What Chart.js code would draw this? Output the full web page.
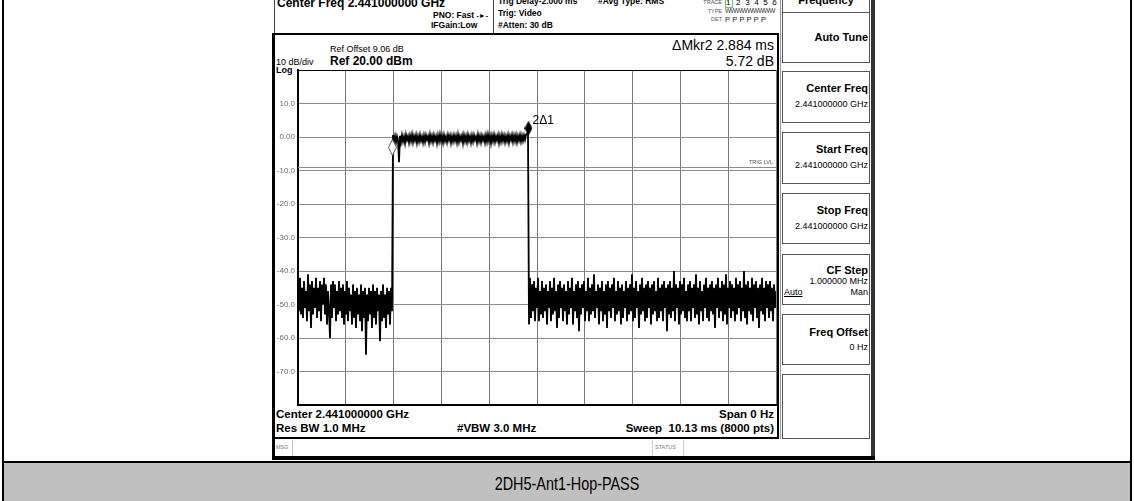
<!DOCTYPE html>
<html><head><meta charset="utf-8">
<script src="https://cdn.jsdelivr.net/npm/chart.js@4"></script>
<style>
html,body{margin:0;padding:0;background:#fff;}
body{width:1134px;height:501px;position:relative;overflow:hidden;font-family:"Liberation Sans",Arial,sans-serif;color:#000;}
.a{position:absolute;white-space:nowrap;line-height:1;}
.b{font-weight:bold;}
.box{position:absolute;box-sizing:border-box;}
.key{position:absolute;box-sizing:border-box;left:782px;width:88px;border:1px solid #555;background:#fff;}
canvas{position:absolute;left:0;top:0;}
</style>
</head><body>
<!-- table frame -->
<div class="box" style="left:2px;top:0;width:2px;height:501px;background:#000"></div>
<div class="box" style="left:1130px;top:0;width:2px;height:501px;background:#000"></div>
<div class="box" style="left:2px;top:461px;width:1130px;height:2px;background:#000"></div>
<div class="box" style="left:4px;top:463px;width:1126px;height:38px;background:#c0c0c0"></div>
<div class="a" id="cap" style="left:367px;width:400px;text-align:center;top:475px;font-size:18px;transform:scaleX(0.8);transform-origin:center">2DH5-Ant1-Hop-PASS</div>

<!-- top bar -->
<div class="box" style="left:274px;top:-6px;width:220px;height:40px;border:1px solid #444"></div>
<div class="a b" style="left:277px;top:-3px;font-size:12px">Center Freq 2.441000000 GHz</div>
<div class="a b" style="left:433px;top:11px;font-size:8.5px">PNO: Fast <span style="font-size:7px">-►-</span></div>
<div class="a b" style="left:431px;top:21px;font-size:8.5px">IFGain:Low</div>
<div class="a b" style="left:498px;top:-3px;font-size:8.5px">Trig Delay-2.000 ms</div>
<div class="a b" style="left:498px;top:9px;font-size:8.5px">Trig: Video</div>
<div class="a b" style="left:498px;top:21px;font-size:8.5px">#Atten: 30 dB</div>
<div class="a b" style="left:598px;top:-3px;font-size:8.5px">#Avg Type: RMS</div>
<div class="a" style="left:700px;width:22px;text-align:right;top:0px;font-size:5.5px;color:#555">TRACE</div>
<div class="a" style="left:725px;top:-1px;font-size:8px;letter-spacing:1.2px"><span style="border:1px solid #6c6">1</span> 2 3 4 5 6</div>
<div class="a" style="left:700px;width:22px;text-align:right;top:9px;font-size:5.5px;color:#555">TYPE</div>
<div class="a" style="left:725px;top:8px;font-size:6.5px;letter-spacing:-0.6px;color:#333">WWWWWWWWW</div>
<div class="a" style="left:700px;width:22px;text-align:right;top:17px;font-size:5.5px;color:#555">DET</div>
<div class="a" style="left:725px;top:16px;font-size:7.5px;letter-spacing:2.2px;color:#222">PPPPPP</div>

<!-- main panel -->
<div class="box" style="left:272px;top:33px;width:507px;height:406px;border:2px solid #000;border-left-width:3px"></div>
<div class="a" style="left:276px;top:58px;font-size:9px">10 dB/div</div>
<div class="a b" style="left:276px;top:66px;font-size:9px">Log</div>
<div class="a" style="left:330px;top:45px;font-size:9px">Ref Offset 9.06 dB</div>
<div class="a b" style="left:330px;top:55px;font-size:12px">Ref 20.00 dBm</div>
<div class="a" style="left:600px;width:174px;text-align:right;top:38px;font-size:14px">ΔMkr2 2.884 ms</div>
<div class="a" style="left:600px;width:174px;text-align:right;top:54px;font-size:14px">5.72 dB</div>
<div class="a b" style="left:276px;top:409px;font-size:11.5px">Center 2.441000000 GHz</div>
<div class="a b" style="left:600px;width:174px;text-align:right;top:409px;font-size:11.5px">Span 0 Hz</div>
<div class="a b" style="left:276px;top:423px;font-size:11.5px">Res BW 1.0 MHz</div>
<div class="a b" style="left:457px;top:423px;font-size:11.5px">#VBW 3.0 MHz</div>
<div class="a b" style="left:550px;width:224px;text-align:right;top:423px;font-size:11.5px">Sweep&nbsp; 10.13 ms (8000 pts)</div>

<!-- msg bar -->
<div class="box" style="left:272px;top:439px;width:603px;height:18px;border-left:3px solid #000;border-bottom:1px solid #bbb"></div>
<div class="box" style="left:292px;top:440px;width:1px;height:16px;background:#ccc"></div>
<div class="box" style="left:652px;top:440px;width:1px;height:16px;background:#ccc"></div>
<div class="box" style="left:683px;top:440px;width:1px;height:16px;background:#ccc"></div>
<div class="a" style="left:276px;top:445px;font-size:5.5px;color:#777">MSG</div>
<div class="a" style="left:655px;top:445px;font-size:5.5px;color:#777">STATUS</div>
<div class="box" style="left:272px;top:456px;width:603px;height:4px;background:#000"></div>

<!-- softkeys -->
<div class="box" style="left:780px;top:0;width:1px;height:439px;background:#999"></div>
<div class="box" style="left:871px;top:0;width:4px;height:456px;background:#333"></div>
<div class="key" style="top:-40px;height:53px"></div>
<div class="a b" style="left:782px;width:88px;text-align:center;top:-5px;font-size:11px">Frequency</div>
<div class="key" style="top:12px;height:51px"></div>
<div class="a b" style="left:700px;width:168px;text-align:right;top:32px;font-size:11px">Auto Tune</div>
<div class="key" style="top:71px;height:52px"></div>
<div class="a b" style="left:700px;width:168px;text-align:right;top:83px;font-size:11px">Center Freq</div>
<div class="a" style="left:700px;width:168px;text-align:right;top:100px;font-size:9px">2.441000000 GHz</div>
<div class="key" style="top:132px;height:52px"></div>
<div class="a b" style="left:700px;width:168px;text-align:right;top:144px;font-size:11px">Start Freq</div>
<div class="a" style="left:700px;width:168px;text-align:right;top:161px;font-size:9px">2.441000000 GHz</div>
<div class="key" style="top:193px;height:51px"></div>
<div class="a b" style="left:700px;width:168px;text-align:right;top:205px;font-size:11px">Stop Freq</div>
<div class="a" style="left:700px;width:168px;text-align:right;top:222px;font-size:9px">2.441000000 GHz</div>
<div class="key" style="top:254px;height:51px"></div>
<div class="a b" style="left:700px;width:168px;text-align:right;top:265px;font-size:11px">CF Step</div>
<div class="a" style="left:700px;width:168px;text-align:right;top:277px;font-size:9px">1.000000 MHz</div>
<div class="a" style="left:784px;top:288px;font-size:9px;text-decoration:underline">Auto</div>
<div class="a" style="left:700px;width:168px;text-align:right;top:288px;font-size:9px">Man</div>
<div class="key" style="top:314px;height:51px"></div>
<div class="a b" style="left:700px;width:168px;text-align:right;top:327px;font-size:11px">Freq Offset</div>
<div class="a" style="left:700px;width:168px;text-align:right;top:343px;font-size:9px">0 Hz</div>
<div class="key" style="top:374px;height:65px"></div>

<canvas id="c" width="1134" height="501"></canvas>
<script>
// ---- data ----
const SWEEP_MS = 10.13;
const Y_MIN = -80, Y_MAX = 20;
const X_DIVS = 10;
const yTickValues = [20, 10, 0, -10, -20, -30, -40, -50, -60, -70, -80];
const yTickLabels = ['', '10.0', '0.00', '-10.0', '-20.0', '-30.0', '-40.0', '-50.0', '-60.0', '-70.0', ''];
const trigLevel = -9.1;
const markerTimes = [2.000, 4.884];
const markerLevels = [-3.1, 2.62];
const markerLabel = '2\u03941';

const preBurst = [
-44,-52,-42,-53,-45,-54,-43,-51,-46,-55,-41,-52,-44,-57,-43,-53,-45,-51,-42,-54,
-45,-52,-43,-55,-44,-50,-42,-53,-44,-56,-46,-52,-60,-44,-54,-43,-51,-44,-55,-46,
-53,-43,-52,-45,-54,-44,-56,-46,-53,-43,-55,-45,-52,-47,-56,-44,-54,-46,-57,-45,
-53,-47,-55,-44,-58,-46,-54,-45,-65,-47,-55,-45,-53,-46,-57,-44,-54,-46,-56,-45,
-52,-47,-61,-46,-55,-44,-54,-47,-57,-45,-53,-46,-56,-45,-52
];
const burst = [
0.6,-1.2,0.3,-1.6,0.2,-1.0,-7.5,0.4,-1.5,0.5,-1.3,0.1,-1.8,0.6,-0.9,0.2,-1.6,0.4,-1.2,0.7,
-1.5,0.3,-1.0,0.5,-1.7,0.2,-1.3,0.6,-1.1,0.1,-1.6,0.4,-1.4,0.5,-0.8,0.2,-1.7,0.6,-1.2,0.3,
-1.5,0.5,-1.0,0.2,-1.8,0.4,-1.3,0.7,-1.1,0.3,-1.6,0.5,-1.2,0.1,-1.5,0.6,-0.9,0.4,-1.7,0.2,
-1.3,0.5,-1.1,0.3,-1.6,0.6,-1.4,0.2,-1.0,0.4,-1.8,0.5,-1.2,0.3,-1.5,0.6,-1.1,0.2,-1.6,0.4,
-1.3,0.5,-0.9,0.1,-1.7,0.6,-1.2,0.3,-1.5,0.4,-1.0,0.2,-1.6,0.5,-1.3,0.7,-1.1,0.3,-1.8,0.4,
-1.2,0.6,-1.4,0.2,-1.0,0.5,-1.7,0.3,-1.3,0.6,-1.1,0.4,-1.5,0.2,-1.2,0.5,-1.6,0.3,-0.9,0.6,
-1.4,0.4,-1.2,0.5,-1.5,0.3,-1.0,0.6,-1.3,0.4,-1.1,0.5,-0.8,0.7,0.9,1.4
];
const postBurst = [
-56,-42,-54,-44,-52,-43,-55,-45,-51,-42,-55,-46,-53,-43,-54,-45,-52,-44,-56,-46,
-51,-43,-55,-45,-53,-42,-52,-46,-57,-44,-54,-43,-51,-45,-55,-44,-52,-46,-56,-43,
-53,-45,-51,-42,-56,-46,-52,-44,-54,-43,-58,-45,-53,-44,-51,-43,-55,-46,-52,-42,
-55,-45,-53,-44,-52,-41,-54,-46,-51,-44,-56,-45,-52,-43,-55,-46,-53,-44,-57,-43,
-52,-45,-54,-44,-51,-42,-55,-46,-53,-43,-52,-45,-56,-44,-54,-46,-51,-43,-55,-45,
-53,-44,-52,-41,-55,-45,-54,-43,-51,-46,-57,-44,-53,-42,-52,-45,-55,-44,-54,-43,
-51,-45,-56,-44,-53,-43,-52,-46,-55,-42,-54,-45,-52,-44,-55,-43,-51,-45,-58,-44,
-53,-43,-54,-45,-52,-40,-55,-44,-51,-45,-56,-43,-53,-44,-52,-42,-54,-46,-55,-44,
-52,-43,-55,-45,-51,-44,-54,-41,-53,-45,-56,-43,-52,-46,-55,-44,-51,-42,-54,-45,
-55,-44,-52,-43,-53,-45,-57,-44,-51,-42,-54,-45,-52,-43,-55,-44,-53,-41,-56,-45,
-51,-43,-54,-44,-52,-45,-55,-42,-53,-44,-51,-43,-55,-45,-52,-40,-54,-44,-56,-43,
-52,-45,-53,-42,-55,-44,-51,-43,-54,-45,-57,-44,-52,-42,-53,-45,-55,-43,-51,-44,
-54,-43,-52,-45,-55,-44,-51,-46
];

// ---- build ----
const trace = preBurst.concat(burst, postBurst);
const dt = SWEEP_MS / (trace.length - 1);
const traceData = trace.map((v, i) => ({x: i * dt, y: v}));

function diamond(w, h, fill, stroke) {
  const c = document.createElement('canvas');
  c.width = w; c.height = h;
  const g = c.getContext('2d');
  g.beginPath();
  g.moveTo(w / 2, 0.5); g.lineTo(w - 0.5, h / 2); g.lineTo(w / 2, h - 0.5); g.lineTo(0.5, h / 2); g.closePath();
  g.fillStyle = fill; g.fill();
  g.strokeStyle = stroke; g.lineWidth = 1; g.stroke();
  return c;
}
const mk1 = diamond(9, 17, '#fff', '#555');
const mk2 = diamond(8, 14, '#000', '#000');

const labelPlugin = {
  id: 'labels',
  afterDatasetsDraw(chart) {
    const {ctx, scales: {x, y}} = chart;
    ctx.save();
    ctx.fillStyle = '#000';
    ctx.font = '12px "Liberation Sans", Arial, sans-serif';
    ctx.textBaseline = 'middle';
    ctx.fillText(markerLabel, x.getPixelForValue(markerTimes[1]) + 4, y.getPixelForValue(markerLevels[1]) - 8);
    ctx.fillStyle = '#555';
    ctx.font = '5.5px "Liberation Sans", Arial, sans-serif';
    ctx.textAlign = 'right';
    ctx.textBaseline = 'bottom';
    ctx.fillText('TRIG LVL', x.right - 3, y.getPixelForValue(trigLevel) - 2);
    ctx.restore();
  }
};

new Chart(document.getElementById('c'), {
  type: 'line',
  data: {
    datasets: [
      {data: [{x: 0, y: trigLevel}, {x: SWEEP_MS, y: trigLevel}], borderColor: '#8c8c8c', borderWidth: 1, pointRadius: 0, order: 3},
      {data: traceData, borderColor: '#000', borderWidth: 1.8, pointRadius: 0, tension: 0, order: 2},
      {data: markerTimes.map((t, i) => ({x: t, y: markerLevels[i]})), showLine: false,
       pointStyle: [mk1, mk2], pointRadius: 8, order: 1}
    ]
  },
  options: {
    responsive: false,
    animation: false,
    devicePixelRatio: 1,
    events: [],
    layout: {padding: {left: 274, right: 358, top: 70, bottom: 96}},
    plugins: {legend: {display: false}, tooltip: {enabled: false}},
    scales: {
      x: {
        type: 'linear', min: 0, max: SWEEP_MS,
        afterBuildTicks: s => { s.ticks = Array.from({length: X_DIVS + 1}, (_, i) => ({value: i * SWEEP_MS / X_DIVS})); },
        afterFit: s => { s.height = 0; },
        ticks: {display: false},
        grid: {color: '#7a7a7a', lineWidth: 1, drawTicks: false},
        border: {display: true, color: '#000', width: 2}
      },
      y: {
        type: 'linear', min: Y_MIN, max: Y_MAX,
        afterBuildTicks: s => { s.ticks = yTickValues.map(v => ({value: v})); },
        afterFit: s => { s.width = 24; },
        ticks: {
          padding: 3,
          color: '#6a6a6a',
          font: {family: '"Liberation Sans", Arial, sans-serif', size: 8},
          callback: v => yTickLabels[yTickValues.indexOf(v)]
        },
        grid: {color: c => (c.tick && c.tick.value === Y_MAX) ? '#000' : '#8c8c8c', lineWidth: 1, drawTicks: false},
        border: {display: true, color: '#000', width: 2}
      }
    }
  },
  plugins: [labelPlugin]
});
</script>
</body></html>
